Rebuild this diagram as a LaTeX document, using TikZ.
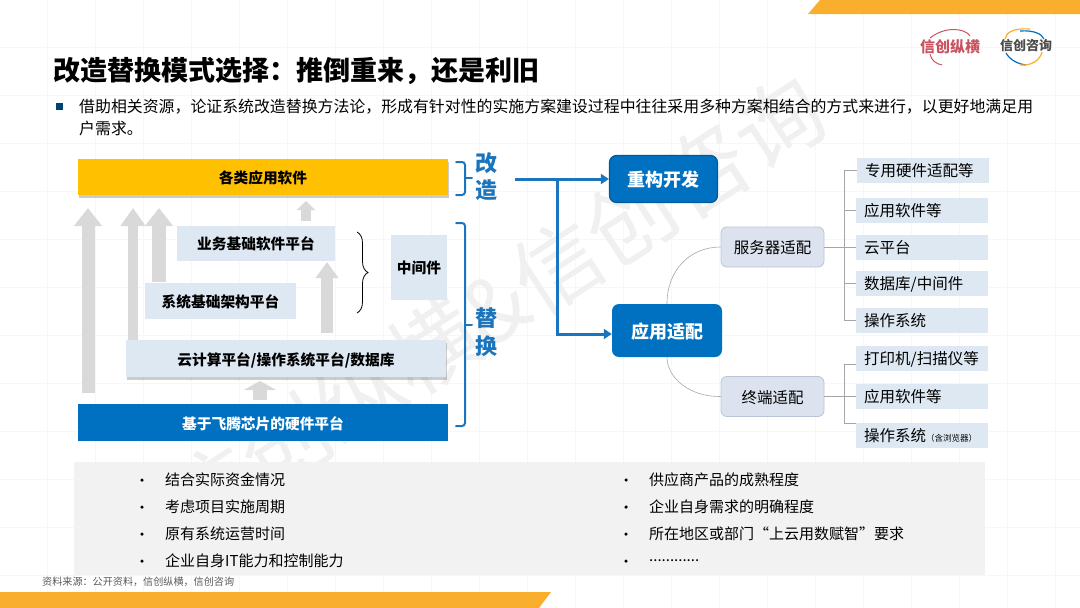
\documentclass[tikz,border=0pt]{standalone}
\usepackage{fontspec}
\setmainfont{Noto Sans CJK SC}
\usepackage{xcolor}
\usetikzlibrary{arrows.meta,calc,positioning,shadows,decorations.pathreplacing}
\definecolor{goldbar}{HTML}{FFC000}
\definecolor{bandorange}{HTML}{F9AE2D}
\definecolor{hwblue}{HTML}{0070C0}
\definecolor{linkblue}{HTML}{1C75BC}
\definecolor{paleblue}{HTML}{DEE8F3}
\definecolor{subfill}{HTML}{DCE3EF}
\definecolor{subline}{HTML}{B9C4D6}
\definecolor{upgray}{HTML}{D9D9D9}
\definecolor{logored}{HTML}{C9545F}
\newcommand{\fsz}[1]{\fontsize{#1}{#1}\selectfont}
\newcommand{\dotrow}{............}
\newcommand{\fwc}{\char"FF0C\relax}
\newcommand{\fwk}{\char"FF1A\relax}
\newcommand{\fwl}{\char"FF08\relax}
\newcommand{\fwr}{\char"FF09\relax}
\tikzset{
  block/.style={inner sep=0pt,text height=15pt,text depth=2pt,font=\fsz{14.7}\bfseries,text=black},
  softshadow/.style={drop shadow={shadow xshift=1pt,shadow yshift=-2.5pt,fill=black,opacity=.2}},
  bigbtn/.style={rounded corners=7pt,fill=hwblue,text=white,text height=17.500pt,text depth=2.500pt,font=\fsz{18}\bfseries,inner sep=0pt},
  subbtn/.style={rounded corners=6pt,fill=subfill,draw=subline,line width=.8pt,text height=15.500pt,text depth=2pt,font=\fsz{15.5},minimum width=103pt,minimum height=40pt,inner sep=0pt},
  leaf/.style={fill=paleblue,anchor=west,text width=116pt,inner xsep=8pt,inner ysep=0pt,minimum height=25pt,text height=14.500pt,text depth=2pt,font=\fsz{15.5}},
  treeline/.style={draw=gray!70,line width=.6pt},
  bluelink/.style={draw=linkblue,line width=3pt},
  bracket/.style={draw=linkblue,line width=2pt,line cap=round,rounded corners=3pt},
  sidetext/.style={inner sep=0pt,text=linkblue,font=\fsz{22}\bfseries},
  tip/.style={inner sep=0pt,font=\fsz{15},anchor=west},
  dotmark/.style={fill=black,circle,inner sep=0pt,minimum size=3.5pt},
  uparrow/.style={draw=upgray,line width=#1},
}
\begin{document}
\begin{tikzpicture}[x=1pt,y=-1pt,>=Stealth]
  \useasboundingbox (0,0) rectangle (1080,608);
  \foreach \gx in {47,95,...,1070} \draw[black!3,line width=.5pt] (\gx,0)--(\gx,608);
  \foreach \gy in {47,95,...,600} \draw[black!3,line width=.5pt] (0,\gy)--(1080,\gy);
  \node[rotate=33,text=black!6,font=\fsz{88},inner sep=0pt] (mark) at (495,307) {信创纵横\&信创咨询};

  \fill[bandorange] (820,0)--(1080,0)--(1080,14)--(808,14)--cycle;
  \fill[bandorange] (0,592)--(551,592)--(539,608)--(0,608)--cycle;

  \node[anchor=west,inner sep=0pt,font=\fsz{27}\bfseries] (title) at (53,71) {改造替换模式选择\fwk 推倒重来\fwc 还是利旧};
  \node[fill=hwblue!60!black,minimum size=7pt,inner sep=0pt] (sq) at (59,106) {};
  \node[anchor=west,inner sep=0pt,font=\fsz{15.9}] (introa) at (79,107) {借助相关资源\fwc 论证系统改造替换方法论\fwc 形成有针对性的实施方案建设过程中往往采用多种方案相结合的方式来进行\fwc 以更好地满足用};
  \node[anchor=west,inner sep=0pt,font=\fsz{15.9}] (introb) at (79,128) {户需求。};

  \node[anchor=west,inner sep=0pt,text=logored,font=\fsz{15}\bfseries] (logoa) at (920,47) {信创纵横};
  \draw[logored,line width=1pt] (930,38) .. controls (945,26) and (965,28) .. (970,36);
  \draw[logored,line width=1pt] (930,54) .. controls (931,60) and (936,64) .. (942,65);
  \node[anchor=west,inner sep=0pt,text=black!70,font=\fsz{13}\bfseries] (logob) at (1000,46) {信创咨询};
  \draw[bandorange,line width=1.2pt] (1030,29) .. controls (1014,28) and (1006,32) .. (1005,39);
  \draw[hwblue,line width=1.2pt] (1020,31) .. controls (1034,30) and (1042,34) .. (1044,39);
  \draw[hwblue,line width=1.2pt] (1006,53) .. controls (1010,60) and (1018,64) .. (1026,65);
  \draw[bandorange,line width=1.2pt] (1020,65) .. controls (1032,66) and (1040,60) .. (1042,52);

  \draw[uparrow=13pt,-{Triangle[length=18pt,width=27pt]}] (88,393)--(88,208);
  \draw[uparrow=10pt,-{Triangle[length=18pt,width=24pt]}] (133,341)--(133,208);
  \draw[uparrow=14pt,-{Triangle[length=18pt,width=27pt]}] (159,282)--(159,208);
  \draw[uparrow=10pt,-{Triangle[length=9pt,width=18pt]}] (306,221)--(306,201);
  \draw[uparrow=12pt,-{Triangle[length=16pt,width=22pt]}] (327,333)--(327,262);
  \draw[uparrow=14pt,-{Triangle[length=9pt,width=32pt]}] (260,400)--(260,381);

  \node[block,fill=goldbar,minimum width=370pt,minimum height=36pt,softshadow] (app) at (263,177) {各类应用软件};
  \node[block,fill=paleblue,minimum width=158pt,minimum height=35pt] (biz) at (256,243) {业务基础软件平台};
  \node[block,fill=paleblue,minimum width=151pt,minimum height=36pt] (sys) at (220.500,301) {系统基础架构平台};
  \node[block,fill=paleblue,minimum width=320pt,minimum height=37pt,softshadow] (cloud) at (286,358.500) {云计算平台/操作系统平台/数据库};
  \node[block,fill=paleblue,minimum width=56pt,minimum height=65pt] (mid) at (419,267) {中间件};
  \node[block,fill=hwblue,text=white,minimum width=370pt,minimum height=37pt] (hw) at (263,422.500) {基于飞腾芯片的硬件平台};

  \draw[decorate,decoration={brace,amplitude=11pt},line width=.8pt] (357,232)--(357,313);

  \draw[bracket] (456,162)--(465,162)--(465,195)--(456,195);
  \draw[bracket] (465,178)--(472,178);
  \draw[bracket] (456,223)--(465,223)--(465,426)--(456,426);
  \draw[bracket] (465,325)--(472,325);
  \node[sidetext] (gai) at (486,163) {改};
  \node[sidetext] (zao) at (486,190) {造};
  \node[sidetext] (ti) at (486,318) {替};
  \node[sidetext] (huan) at (486,346) {换};

  \node[bigbtn,draw=hwblue!80!black,line width=1.2pt,minimum width=108pt,minimum height=47pt] (rebuild) at (663.500,179) {重构开发};
  \node[bigbtn,minimum width=110pt,minimum height=53pt] (adapt) at (667,330.500) {应用适配};
  \node[subbtn] (server) at (772.500,247) {服务器适配};
  \node[subbtn] (terminal) at (772.500,396.500) {终端适配};

  \coordinate (feed) at (515,179);
  \coordinate (fork) at (557,179);
  \coordinate (adaptin) at (adapt.west |- 0,334);
  \draw[bluelink,-{Triangle[length=8pt,width=10pt]}] (feed)--(rebuild.west);
  \draw[bluelink,-{Triangle[length=8pt,width=10pt]}] (fork)|-(adaptin);

  \draw[treeline] (adapt.north) .. controls (667,270) and (690,247) .. (server.west);
  \draw[treeline] (adapt.south) .. controls (667,378) and (690,397) .. (terminal.west);

  \node[leaf] (leafa) at (857,170.500) {专用硬件适配等};
  \node[leaf] (leafb) at (856,210) {应用软件等};
  \node[leaf] (leafc) at (856,247.500) {云平台};
  \node[leaf] (leafd) at (856,283.500) {数据库/中间件};
  \node[leaf] (leafe) at (856,320.500) {操作系统};
  \node[leaf] (leaff) at (856,358.500) {打印机/扫描仪等};
  \node[leaf] (leafg) at (856,396.500) {应用软件等};
  \node[leaf] (leafh) at (856,435) {操作系统{\fsz{8.5}\fwl 含浏览器\fwr}};

  \coordinate (srvbus) at (844,247);
  \coordinate (ticka) at (844,364);
  \coordinate (tickb) at (844,423);
  \draw[treeline] (server.east)--(srvbus);
  \draw[treeline] (leafa.west-|srvbus)--(leafe.west-|srvbus);
  \foreach \lf in {leafa,leafb,leafc,leafd,leafe} \draw[treeline] (\lf.west-|srvbus)--(\lf.west);
  \draw[treeline] (terminal.east)--(leafg.west);
  \draw[treeline] (ticka)--(tickb);
  \draw[treeline] (ticka)--(ticka-|leaff.west);
  \draw[treeline] (tickb)--(tickb-|leafh.west);

  \node[fill=black!5,minimum width=911pt,minimum height=113pt,inner sep=0pt] (panel) at (529.500,518.500) {};
  \foreach \rowy/\lefttxt/\righttxt [count=\i] in {480/结合实际资金情况/供应商产品的成熟程度,507/考虑项目实施周期/企业自身需求的明确程度,534/原有系统运营时间/所在地区或部门“上云用数赋智”要求,561/企业自身IT能力和控制能力/\dotrow}{
    \node[dotmark] (dotl\i) at (142,\rowy) {};
    \node[tip] (tipl\i) at (165,\rowy-.5) {\lefttxt};
    \node[dotmark] (dotr\i) at (626,\rowy) {};
    \node[tip] (tipr\i) at (649,\rowy) {\righttxt};
  }
  \node[anchor=west,inner sep=0pt,text=black!65,font=\fsz{10.1}] (source) at (42,582) {资料来源\fwk 公开资料\fwc 信创纵横\fwc 信创咨询};
\end{tikzpicture}
\end{document}
